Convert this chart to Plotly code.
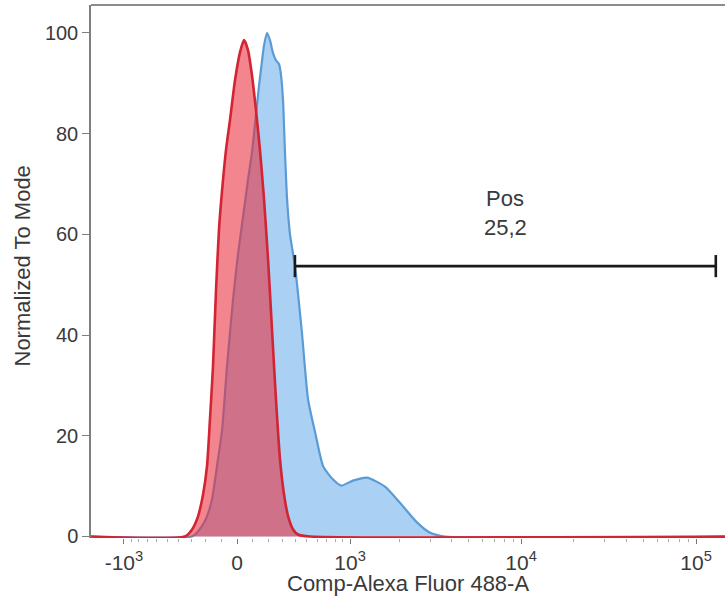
import numpy as np
import plotly.graph_objects as go

# Biexponential-style display: arcsinh with a linear region around zero
COFACTOR = 476.0


def biex(v):
    return np.arcsinh(np.asarray(v, dtype=float) / COFACTOR)


# Unstained control histogram (fluorescence, % of mode)
ctrl_fl = [-1600, -352, -298, -255, -220, -193, -173, -153, -133, -114, -94,
           -69, -44, -12, 19, 44, 69, 94, 120, 146, 173, 200, 227, 255, 284,
           314, 345, 384, 424, 532, 200000]
ctrl_pct = [0, 0, 1.4, 4.0, 8.3, 13.9, 23.2, 33.7, 49.0, 60.9, 68.8,
            76.8, 82.7, 90.7, 96.2, 98.6, 96.6, 91.7, 84.7, 76.8, 66.9, 55.0,
            41.1, 27.2, 15.3, 8.3, 4.0, 1.4, 0.4, 0, 0]

# Stained sample histogram (fluorescence, % of mode)
stain_fl = [-1600, -298, -262, -220, -193, -160, -127, -94, -63, -25, 6, 38,
            69, 94, 120, 139, 160, 173, 193, 213, 234, 255, 277, 291, 306,
            321, 337, 360, 399, 458, 513, 581, 664, 776, 876, 1042, 1274,
            1633, 2005, 2519, 2985, 3666, 200000]
stain_pct = [0, 0, 0.8, 2.4, 4.0, 7.3, 13.9, 21.2, 33.7, 47.0, 56.0, 63.5,
             70.8, 76.2, 83.7, 89.3, 94.6, 97.6, 100, 98.6, 96.0, 94.6, 93.8,
             91.7, 86.7, 76.2, 66.9, 59.9, 53.8, 40.5, 27.2, 20.6, 13.9, 11.3,
             10.1, 11.1, 11.7, 9.9, 6.7, 2.8, 0.8, 0, 0]

# Positive gate
gate_name = "Pos"
gate_pct = "25,2"
gate_lo, gate_hi = 399, 129600
gate_level = 53.7

# Axis ticks
x_tickvals = [-1000, 0, 1000, 10000, 100000]
x_ticktext = ["-10<sup>3</sup>", "0", "10<sup>3</sup>", "10<sup>4</sup>", "10<sup>5</sup>"]
x_minor = ([-k * 100 for k in range(9, 0, -1)] + [k * 100 for k in range(1, 10)]
           + [k * 1000 for k in range(2, 10)] + [k * 10000 for k in range(2, 10)]
           + [200000])
y_tickvals = [0, 20, 40, 60, 80, 100]

FONT = "Liberation Sans, Arial, sans-serif"
TXT = "#3a3a3a"

fig = go.Figure()

fig.add_trace(go.Scatter(
    x=biex(stain_fl), y=stain_pct, mode="lines", fill="tozeroy",
    line=dict(color="#5b9bd5", width=2.2, shape="spline", smoothing=0.6),
    fillcolor="rgba(165,205,243,0.95)", hoverinfo="skip", showlegend=False,
))
fig.add_trace(go.Scatter(
    x=biex(ctrl_fl), y=ctrl_pct, mode="lines", fill="tozeroy",
    line=dict(color="#d22433", width=2.6, shape="spline", smoothing=0.6),
    fillcolor="rgba(232,45,60,0.58)", hoverinfo="skip", showlegend=False,
))

# Gate bar with end caps
gx0, gx1 = float(biex(gate_lo)), float(biex(gate_hi))
cap = 2.2
for shp in [
    dict(x0=gx0, x1=gx1, y0=gate_level, y1=gate_level),
    dict(x0=gx0, x1=gx0, y0=gate_level - cap, y1=gate_level + cap),
    dict(x0=gx1, x1=gx1, y0=gate_level - cap, y1=gate_level + cap),
]:
    fig.add_shape(type="line", xref="x", yref="y",
                  line=dict(color="#1a1a1a", width=2.6), **shp)

gmid = (gx0 + gx1) / 2
fig.add_annotation(x=gmid, y=gate_level + 13.5, text=gate_name, showarrow=False,
                   font=dict(family=FONT, size=22, color=TXT))
fig.add_annotation(x=gmid, y=gate_level + 7.6, text=gate_pct, showarrow=False,
                   font=dict(family=FONT, size=22, color=TXT))

# Axis titles
fig.add_annotation(xref="paper", yref="paper", x=0.5, y=0, yanchor="middle",
                   yshift=-45, text="Comp-Alexa Fluor 488-A", showarrow=False,
                   font=dict(family=FONT, size=22, color=TXT))
fig.add_annotation(xref="paper", yref="paper", x=0, xanchor="center", xshift=-69,
                   y=0.5, yanchor="middle", yshift=5,
                   text="Normalized To Mode", textangle=-90, showarrow=False,
                   font=dict(family=FONT, size=22, color=TXT))

# Top frame line
fig.add_shape(type="line", xref="paper", yref="paper", x0=0, x1=1, y0=1, y1=1,
              line=dict(color="#8c8c8c", width=2))

fig.update_layout(
    width=725, height=598,
    margin=dict(l=91, r=0, t=5, b=60),
    paper_bgcolor="white", plot_bgcolor="white",
    font=dict(family=FONT, color=TXT),
)
fig.update_xaxes(
    range=[-1.921, 6.421], showgrid=False, zeroline=False, showline=False,
    tickmode="array", tickvals=biex(x_tickvals).tolist(), ticktext=x_ticktext,
    ticks="outside", ticklen=5, tickcolor="#777", tickwidth=1,
    ticklabelstandoff=1,
    tickfont=dict(family=FONT, size=21, color=TXT),
    minor=dict(tickmode="array", tickvals=biex(x_minor).tolist(),
               ticks="outside", ticklen=3, tickcolor="#aaa", tickwidth=1),
)
fig.update_yaxes(
    range=[-0.3, 105.56], showgrid=False, zeroline=False,
    showline=True, linecolor="#7f7f7f", linewidth=1.5,
    tickmode="array", tickvals=y_tickvals,
    ticks="outside", ticklen=7, tickcolor="#7f7f7f", tickwidth=1.2,
    tickfont=dict(family=FONT, size=20, color=TXT),
)

fig.write_html("out.html")
